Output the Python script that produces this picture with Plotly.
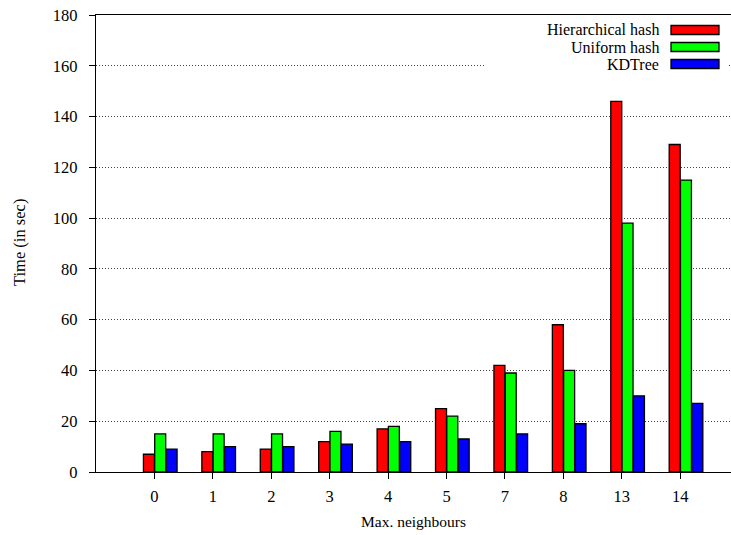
import plotly.graph_objects as go

categories = ["0", "1", "2", "3", "4", "5", "7", "8", "13", "14"]
hierarchical = [7, 8, 9, 12, 17, 25, 42, 58, 146, 129]
uniform = [15, 15, 15, 16, 18, 22, 39, 40, 98, 115]
kdtree = [9, 10, 10, 11, 12, 13, 15, 19, 30, 27]
series_names = ["Hierarchical hash", "Uniform hash", "KDTree"]
series_colors = ["#ff0000", "#00ff00", "#0000ff"]
y_ticks = [0, 20, 40, 60, 80, 100, 120, 140, 160, 180]

FONT = "Liberation Serif, Times New Roman, serif"
W, H = 731, 535
L, R, T, B = 96, 0, 15, 63
PW, PH = W - L - R, H - T - B


def px(x):
    return (x - L) / PW


def py(y):
    return (H - B - y) / PH


fig = go.Figure()
offsets = [-0.188, 0.005, 0.2]
for name, vals, col, off in zip(series_names, [hierarchical, uniform, kdtree], series_colors, offsets):
    fig.add_trace(go.Bar(
        x=categories, y=vals, name=name,
        width=0.188, offset=off,
        marker=dict(color=col, line=dict(color="black", width=1.3)),
        showlegend=False,
    ))

shapes = [dict(type="rect", xref="paper", yref="paper",
               x0=px(486), x1=px(728), y0=py(76), y1=py(18),
               fillcolor="white", line=dict(width=0), layer="above")]
annotations = []
row_y = [30, 47, 64]
for name, col, ry in zip(series_names, series_colors, row_y):
    shapes.append(dict(type="rect", xref="paper", yref="paper",
                       x0=px(671), x1=px(719), y0=py(ry + 4.5), y1=py(ry - 4.5),
                       fillcolor=col, line=dict(color="black", width=1.3), layer="above"))
    annotations.append(dict(text=name, xref="paper", yref="paper",
                            x=px(661), y=py(ry), xanchor="right", yanchor="middle",
                            showarrow=False, font=dict(family=FONT, size=16, color="black")))

annotations.append(dict(text="Max. neighbours", xref="paper", yref="paper",
                        x=px(413), y=py(521), xanchor="center", yanchor="middle",
                        showarrow=False, font=dict(family=FONT, size=15.5, color="black")))
annotations.append(dict(text="Time (in sec)", xref="paper", yref="paper",
                        x=px(19), y=py(243), xanchor="center", yanchor="middle",
                        textangle=-90,
                        showarrow=False, font=dict(family=FONT, size=16.5, color="black")))

fig.update_layout(
    width=W, height=H,
    margin=dict(l=L, r=R, t=T, b=B, pad=0),
    paper_bgcolor="white", plot_bgcolor="white",
    barmode="overlay",
    font=dict(family=FONT, size=16, color="black"),
    shapes=shapes, annotations=annotations,
    xaxis=dict(type="category", range=[-1, 9.87],
               showline=True, linecolor="black", linewidth=1.3, mirror=True,
               ticks="outside", ticklen=6, tickcolor="black", tickwidth=1.3,
               showgrid=False, zeroline=False, ticklabelstandoff=3,
               tickfont=dict(family=FONT, size=16.5, color="black")),
    yaxis=dict(range=[0, 180], tickvals=y_ticks,
               showline=True, linecolor="black", linewidth=1.3, mirror=False,
               ticks="outside", ticklen=6, tickcolor="black", tickwidth=1.3,
               showgrid=True, gridcolor="#444444", griddash="1px,2px", gridwidth=1,
               zeroline=False, ticklabelstandoff=8,
               tickfont=dict(family=FONT, size=16.5, color="black")),
)

fig.write_html("out.html")
